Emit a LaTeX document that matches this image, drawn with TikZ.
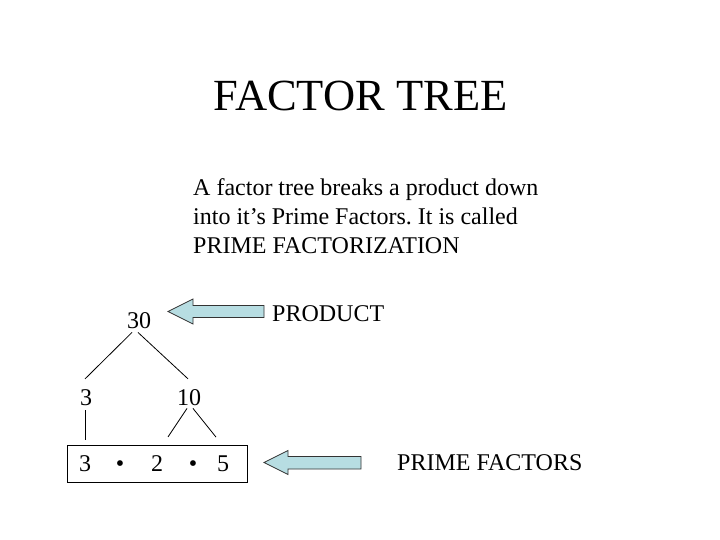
\documentclass[tikz,border=0pt]{standalone}
\usepackage{fontspec}
\setmainfont{Liberation Serif}
\frenchspacing
\definecolor{arrowfill}{RGB}{183,221,226}
\begin{document}
\begin{tikzpicture}[x=1pt,y=-1pt,
  txt/.style={inner sep=0pt,anchor=base,font=\fontsize{24}{28}\selectfont},
  para/.style={inner sep=0pt,anchor=base west,font=\fontsize{24}{28}\selectfont},
  branch/.style={line width=0.8pt,black},
  bigarrow/.style={fill=arrowfill,draw=black!80,line width=0.8pt,line join=miter}]
\useasboundingbox (0,0) rectangle (720,540);
\fill[white] (0,0) rectangle (720,540);
% title
\node[inner sep=0pt,anchor=base,font=\fontsize{44.5}{50}\selectfont] (title) at (360.5,111) {FACTOR TREE};
% paragraph
\node[para] (p1) at (193,196) {A factor tree breaks a product down};
\node[para] (p2) at (193,224.5) {into it’s Prime Factors. It is called};
\node[para] (p3) at (193,253) {PRIME FACTORIZATION};
% tree
\node[txt] (n30) at (139,328) {30};
\node[txt] (n3) at (86,405) {3};
\node[txt] (n10) at (189,405) {10};
\node[draw,line width=0.8pt,minimum width=180pt,minimum height=37pt,inner sep=0pt] (box) at (157,463.5) {};
\node[txt] (b3) at (85,471) {3};
\node[txt] (d1) at (120,471) {•};
\node[txt] (b2) at (157,471) {2};
\node[txt] (d2) at (193,471) {•};
\node[txt] (b5) at (223,471) {5};
\draw[branch] ([shift={(-7,4)}]n30.south) -- ([shift={(-1,-10)}]n3.north);
\draw[branch] ([shift={(-1,4)}]n30.south) -- ([shift={(-1,-10)}]n10.north);
\draw[branch] ([shift={(-1,5)}]n3.south) -- ([shift={(0,-15)}]b3.north);
\draw[branch] ([shift={(-2,3)}]n10.south) -- ([shift={(11,-18)}]b2.north);
\draw[branch] ([shift={(4,3)}]n10.south) -- ([shift={(-7,-18)}]b5.north);
% labels
\node[txt,anchor=base west] (prod) at (272,321) {PRODUCT};
\node[txt,anchor=base west] (pf) at (397,470) {PRIME FACTORS};
% arrows
\coordinate (tip1) at (168,311.5);
\filldraw[bigarrow] (tip1) -- ++(25,-12.5) -- ++(0,6.5) -- ++(71,0) -- ++(0,12) -- ++(-71,0) -- ++(0,6.5) -- cycle;
\coordinate (tip2) at (264,462.5);
\filldraw[bigarrow] (tip2) -- ++(24,-12) -- ++(0,6) -- ++(73,0) -- ++(0,12.5) -- ++(-73,0) -- ++(0,5.5) -- cycle;
\end{tikzpicture}
\end{document}
